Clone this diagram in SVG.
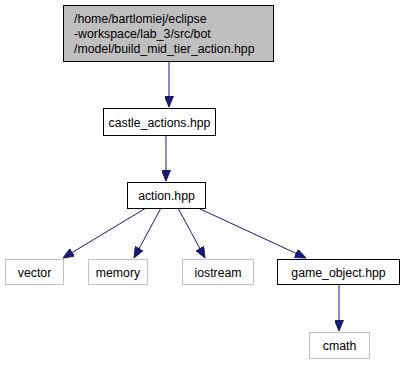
<svg xmlns="http://www.w3.org/2000/svg" width="405" height="365" viewBox="0 0 405 365">
  <defs>
    <marker id="arrow" viewBox="0 0 10 10" refX="10" refY="5" markerWidth="11" markerHeight="9" markerUnits="userSpaceOnUse" orient="auto" preserveAspectRatio="none">
      <path d="M0,0 L10,5 L0,10 Z" fill="#191970" stroke="#191970"/>
    </marker>
  </defs>
  <style>
    text { font-family: "Liberation Sans", Arial, sans-serif; font-size: 12.3px; fill: #000; }
    .box { fill: #fff; stroke: #000; stroke-width: 1; }
    .root { fill: #bfbfbf; stroke: #000; stroke-width: 1; }
    .ext { fill: #fff; stroke: #bfbfbf; stroke-width: 1; }
    .edge { fill: none; stroke: #191970; stroke-width: 1; marker-end: url(#arrow); }
  </style>
  <rect width="405" height="365" fill="#fff"/>

  <g id="connectors">
    <path class="edge" d="M169,62 L169,107"/>
    <path class="edge" d="M166,135 L166,181"/>
    <path class="edge" d="M146,208 L63,258"/>
    <path class="edge" d="M161,208 L134,258"/>
    <path class="edge" d="M178,208 L205,258"/>
    <path class="edge" d="M198,208 L306,258"/>
    <path class="edge" d="M339,285 L339,331"/>
  </g>

  <g id="node-build_mid_tier_action">
    <rect class="root" x="63.5" y="5.5" width="210" height="56"/>
    <text x="74" y="22.5">/home/bartlomiej/eclipse</text>
    <text x="74" y="37.5">-workspace/lab_3/src/bot</text>
    <text x="74" y="52.5">/model/build_mid_tier_action.hpp</text>
  </g>

  <g id="node-castle_actions">
    <rect class="box" x="103.5" y="108.5" width="112" height="27"/>
    <text x="159.5" y="126.5" text-anchor="middle">castle_actions.hpp</text>
  </g>

  <g id="node-action">
    <rect class="box" x="127.5" y="182.5" width="78" height="26"/>
    <text x="166.5" y="200" text-anchor="middle">action.hpp</text>
  </g>

  <g id="node-vector">
    <rect class="ext" x="5.5" y="259.5" width="58" height="25"/>
    <text x="34.5" y="276.5" text-anchor="middle">vector</text>
  </g>

  <g id="node-memory">
    <rect class="ext" x="88.5" y="259.5" width="59" height="25"/>
    <text x="118" y="276.5" text-anchor="middle">memory</text>
  </g>

  <g id="node-iostream">
    <rect class="ext" x="182.5" y="259.5" width="71" height="25"/>
    <text x="218" y="276.5" text-anchor="middle">iostream</text>
  </g>

  <g id="node-game_object">
    <rect class="box" x="277.5" y="259.5" width="122" height="25"/>
    <text x="338.5" y="276.5" text-anchor="middle">game_object.hpp</text>
  </g>

  <g id="node-cmath">
    <rect class="ext" x="309.5" y="332.5" width="60" height="26"/>
    <text x="339.5" y="350" text-anchor="middle">cmath</text>
  </g>
</svg>
